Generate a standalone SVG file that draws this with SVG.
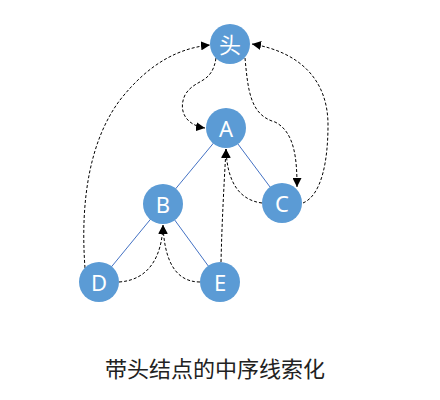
<svg xmlns="http://www.w3.org/2000/svg" width="440" height="400" viewBox="0 0 440 400">
<style>
.node circle{fill:#5B9BD5;}
.node text{fill:#fff;font-family:"Noto Sans","Noto Sans CJK SC",sans-serif;font-size:22px;text-anchor:middle;dominant-baseline:central;}
.tree{stroke:#4472C4;stroke-width:1;fill:none;}
.thr{stroke:#000;stroke-width:1;stroke-dasharray:3,2;fill:none;marker-end:url(#ah);}
.title{font-family:"Noto Sans CJK SC",sans-serif;font-size:22px;text-anchor:middle;fill:#222;}
</style>
<defs>
<marker id="ah" viewBox="0 0 10 10" refX="10" refY="5" markerWidth="9" markerHeight="9" markerUnits="userSpaceOnUse" orient="auto">
<path d="M0,0 L10,5 L0,10 z" fill="#000"/>
</marker>
</defs>
<g id="connectors">
<line class="tree" x1="226" y1="128" x2="163" y2="204"/>
<line class="tree" x1="226" y1="128" x2="282" y2="203"/>
<line class="tree" x1="163" y1="204" x2="99" y2="282"/>
<line class="tree" x1="163" y1="204" x2="220" y2="282"/>
<path class="thr" d="M85,268 C80,200 90,140 120,100 C150,62 180,48 210,45"/>
<path class="thr" d="M216,58 C212,85 195,78 185,95 C178,110 185,125 205,128"/>
<path class="thr" d="M245,58 C248,90 250,115 275,122 C295,132 297,160 297,187"/>
<path class="thr" d="M303,203 C322,195 328,160 328,125 C328,80 300,52 252,44"/>
<path class="thr" d="M262,203 C238,200 227,180 226,149"/>
<path class="thr" d="M221,262 C222,220 224,185 226,149"/>
<path class="thr" d="M119,282 C150,280 162,255 163,225"/>
<path class="thr" d="M200,282 C170,282 164,250 163,225"/>
</g>
<g id="node-head" class="node"><circle cx="230" cy="44" r="20"/><text x="230" y="44">头</text></g>
<g id="node-A" class="node"><circle cx="226" cy="128" r="20"/><text x="226" y="128">A</text></g>
<g id="node-B" class="node"><circle cx="163" cy="204" r="20"/><text x="163" y="204">B</text></g>
<g id="node-C" class="node"><circle cx="282" cy="203" r="20"/><text x="282" y="203">C</text></g>
<g id="node-D" class="node"><circle cx="99" cy="282" r="20"/><text x="99" y="282">D</text></g>
<g id="node-E" class="node"><circle cx="220" cy="282" r="20"/><text x="220" y="282">E</text></g>
<text class="title" x="215" y="377">带头结点的中序线索化</text>
</svg>
